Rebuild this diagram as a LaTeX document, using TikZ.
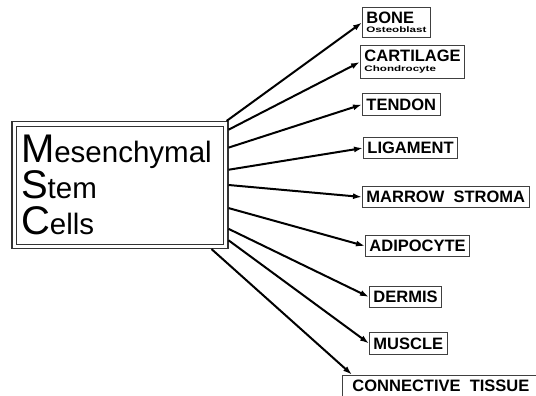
\documentclass[tikz,border=0pt]{standalone}
\usepackage{fontspec}
\setmainfont{Liberation Sans}
\usepackage{graphicx}
\usetikzlibrary{arrows.meta}

\newcommand{\initial}[1]{{\fontsize{40}{36}\selectfont #1}}
\newcommand{\subtag}[1]{\scalebox{1.45}[1]{\fontsize{8}{8}\selectfont #1}}

\tikzset{
  frame/.style={draw=black!80, line width=1.1pt},
  tissue/.style={draw=black!75, line width=0.9pt, anchor=west,
    font=\fontsize{16.5}{19}\selectfont\bfseries, inner xsep=4pt, inner ysep=5pt},
  arr/.style={-{Latex[length=9pt,width=6pt]}, line width=2pt}
}

\begin{document}
\begin{tikzpicture}[x=1pt,y=-1pt]
    \useasboundingbox (0,0) rectangle (536,396);
    \node[frame, minimum width=216pt, minimum height=127pt, text width=198pt,
      inner xsep=9pt, align=left, font=\fontsize{29.5}{36}\selectfont]
      (msc) at (120,185) {\initial{M}esenchymal\\\initial{S}tem\\\initial{C}ells};
    \draw[frame, line width=0.8pt] ([xshift=5pt,yshift=-5pt]msc.north west)
      rectangle ([xshift=-5pt,yshift=5pt]msc.south east);
    \node[tissue, align=left] (bone) at (362,22.5) {BONE\\[-10pt]\subtag{Osteoblast}};
    \node[tissue, align=left] (cartilage) at (360,62) {CARTILAGE\\[-9pt]\subtag{Chondrocyte}};
    \node[tissue] (tendon) at (362,104.5) {TENDON};
    \node[tissue] (ligament) at (363,148) {LIGAMENT};
    \node[tissue] (marrow) at (362,197) {MARROW\ \ STROMA};
    \node[tissue] (adipocyte) at (365,246) {ADIPOCYTE};
    \node[tissue] (dermis) at (369,297) {DERMIS};
    \node[tissue] (muscle) at (369,343.5) {MUSCLE};
    \node[tissue, inner xsep=10pt] (connective) at (342,386) {CONNECTIVE\ \ TISSUE};
    \foreach \tgt/\ang in {bone/31, cartilage/27, tendon/19, ligament/8,
        marrow/0, adipocyte/-12, dermis/-22, muscle/-27}
      \draw[arr] (msc.\ang) -- (\tgt.west);
    \draw[arr] (msc.-35) -- ([xshift=10pt]connective.north west);
\end{tikzpicture}
\end{document}
